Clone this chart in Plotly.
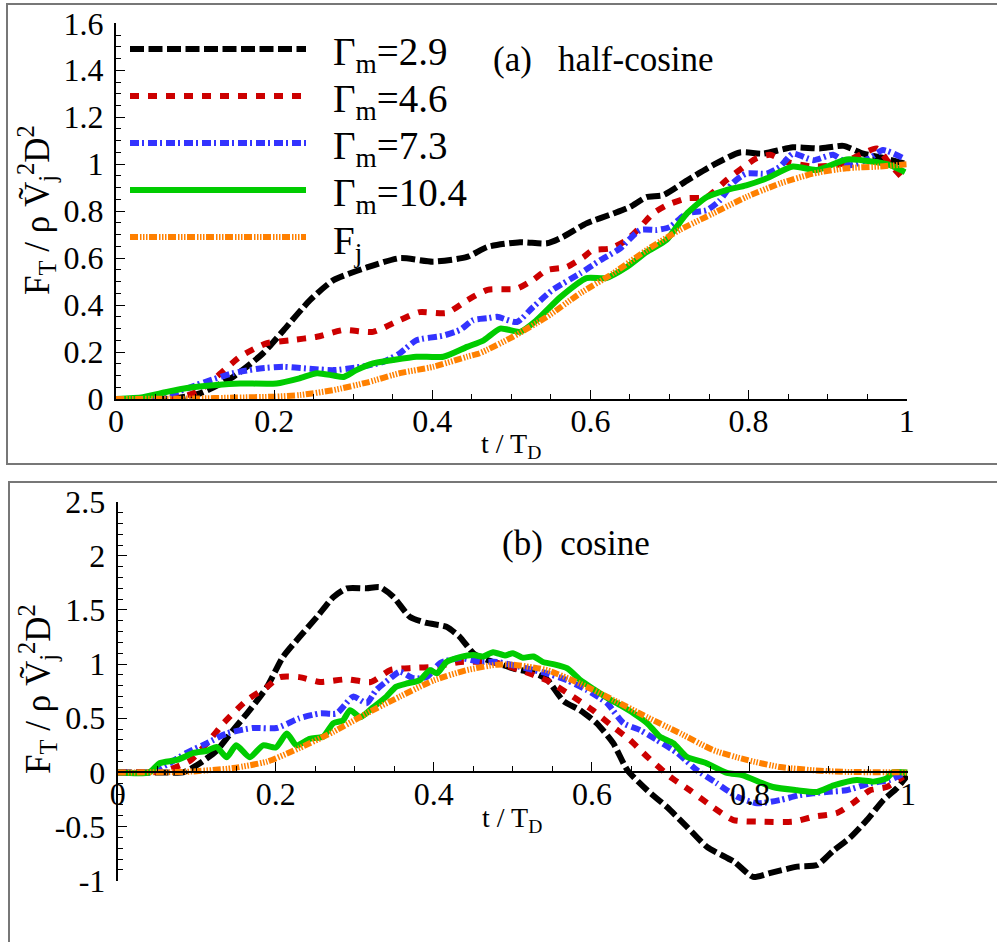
import plotly.graph_objects as go

# ---------------- data ----------------
SERIES_NAMES = ["Γ<sub>m</sub>=2.9", "Γ<sub>m</sub>=4.6", "Γ<sub>m</sub>=7.3",
                "Γ<sub>m</sub>=10.4", "F<sub>j</sub>"]

# (a) half-cosine
T_BLACK_A = [0, 0.05, 0.08, 0.107, 0.148, 0.186, 0.212, 0.245, 0.275, 0.317, 0.359, 0.401, 0.444,
             0.47, 0.511, 0.545, 0.565, 0.595, 0.629, 0.65, 0.671, 0.692, 0.722, 0.755, 0.789,
             0.818, 0.856, 0.89, 0.92, 0.945, 0.966, 1.0]
V_BLACK_A = [0, 0, 0.005, 0.025, 0.094, 0.195, 0.293, 0.42, 0.506, 0.56, 0.6, 0.585, 0.605,
             0.648, 0.668, 0.663, 0.69, 0.748, 0.79, 0.818, 0.86, 0.868, 0.93, 0.996, 1.05,
             1.045, 1.072, 1.067, 1.078, 1.045, 1.03, 1.0]

T_RED_A = [0, 0.06, 0.09, 0.107, 0.127, 0.157, 0.19, 0.22, 0.254, 0.288, 0.325, 0.359, 0.384,
           0.418, 0.444, 0.47, 0.507, 0.527, 0.545, 0.57, 0.591, 0.603, 0.625, 0.646, 0.663,
           0.679, 0.697, 0.722, 0.747, 0.772, 0.797, 0.81, 0.827, 0.848, 0.882, 0.916, 0.941,
           0.962, 0.979, 0.995]
V_RED_A = [0, 0, 0.015, 0.04, 0.094, 0.18, 0.237, 0.25, 0.265, 0.294, 0.286, 0.336, 0.37,
           0.366, 0.42, 0.465, 0.47, 0.506, 0.549, 0.562, 0.604, 0.634, 0.641, 0.677, 0.732,
           0.79, 0.826, 0.855, 0.86, 0.932, 0.996, 1.025, 1.04, 1.01, 0.99, 1.0, 1.04,
           1.067, 1.0, 0.94]

T_BLUE_A = [0, 0.04, 0.073, 0.107, 0.148, 0.182, 0.212, 0.241, 0.275, 0.309, 0.338, 0.359, 0.38,
            0.414, 0.435, 0.452, 0.47, 0.482, 0.507, 0.527, 0.552, 0.587, 0.612, 0.637, 0.663,
            0.684, 0.7, 0.722, 0.747, 0.764, 0.78, 0.797, 0.823, 0.84, 0.856, 0.882, 0.907,
            0.928, 0.953, 0.97, 0.996]
V_BLUE_A = [0, 0.003, 0.025, 0.066, 0.11, 0.13, 0.137, 0.13, 0.123, 0.137, 0.158, 0.195, 0.25,
            0.27, 0.294, 0.336, 0.344, 0.35, 0.328, 0.39, 0.464, 0.535, 0.59, 0.64, 0.72,
            0.72, 0.732, 0.79, 0.804, 0.847, 0.92, 0.96, 0.96, 0.99, 1.045, 1.017, 1.04,
            0.996, 1.025, 1.06, 1.025]

T_GREEN_A = [0, 0.034, 0.064, 0.09, 0.127, 0.157, 0.203, 0.232, 0.254, 0.275, 0.288, 0.304,
             0.325, 0.35, 0.38, 0.414, 0.444, 0.465, 0.486, 0.511, 0.532, 0.562, 0.595, 0.62,
             0.646, 0.671, 0.696, 0.722, 0.747, 0.772, 0.797, 0.823, 0.856, 0.886, 0.924,
             0.958, 0.979, 0.998]
V_GREEN_A = [0, 0.008, 0.03, 0.047, 0.06, 0.066, 0.066, 0.088, 0.11, 0.1, 0.094, 0.123,
             0.152, 0.166, 0.18, 0.18, 0.222, 0.25, 0.3, 0.286, 0.336, 0.434, 0.515, 0.515,
             0.562, 0.626, 0.677, 0.79, 0.86, 0.89, 0.91, 0.94, 0.99, 0.975, 1.02,
             1.01, 0.996, 0.966]

T_ORANGE_A = [0, 0.1, 0.15, 0.2, 0.233, 0.275, 0.317, 0.359, 0.401, 0.444, 0.46, 0.502, 0.545,
              0.587, 0.629, 0.671, 0.713, 0.755, 0.797, 0.84, 0.882, 0.924, 0.966, 1.0]
V_ORANGE_A = [0, 0.002, 0.006, 0.01, 0.017, 0.038, 0.07, 0.11, 0.137, 0.18, 0.195, 0.265, 0.35,
              0.45, 0.536, 0.634, 0.72, 0.79, 0.86, 0.918, 0.96, 0.983, 0.99, 1.0]

# (b) cosine
T_BLACK_B = [0, 0.06, 0.083, 0.104, 0.125, 0.146, 0.167, 0.189, 0.209, 0.23, 0.252, 0.273, 0.29,
             0.315, 0.332, 0.349, 0.37, 0.391, 0.416, 0.433, 0.45, 0.467, 0.484, 0.5, 0.526,
             0.543, 0.564, 0.585, 0.606, 0.627, 0.645, 0.67, 0.695, 0.72, 0.746, 0.78, 0.804,
             0.825, 0.86, 0.885, 0.906, 0.927, 0.948, 0.969, 0.986, 0.999]
V_BLACK_B = [0, 0, 0.0, 0.085, 0.2, 0.39, 0.575, 0.79, 1.065, 1.25, 1.435, 1.62, 1.70,
             1.70, 1.71, 1.62, 1.435, 1.38, 1.345, 1.25, 1.1, 1.04, 1.0, 0.96, 0.92,
             0.86, 0.66, 0.575, 0.455, 0.27, 0.02, -0.165, -0.32, -0.5, -0.69, -0.825, -0.965,
             -0.93, -0.87, -0.855, -0.72, -0.6, -0.44, -0.255, -0.145, -0.03]

T_RED_B = [0, 0.04, 0.062, 0.092, 0.113, 0.134, 0.163, 0.189, 0.205, 0.23, 0.256, 0.29, 0.32,
           0.345, 0.374, 0.4, 0.434, 0.467, 0.48, 0.509, 0.543, 0.576, 0.601, 0.627, 0.648,
           0.67, 0.699, 0.724, 0.753, 0.779, 0.817, 0.855, 0.88, 0.91, 0.93, 0.952, 0.973, 0.994]
V_RED_B = [0, 0, 0.02, 0.11, 0.27, 0.455, 0.665, 0.79, 0.88, 0.88, 0.835, 0.86, 0.835,
           0.945, 0.965, 0.975, 1.02, 1.02, 1.01, 0.945, 0.85, 0.7, 0.575, 0.42, 0.3,
           0.145, -0.04, -0.165, -0.32, -0.44, -0.455, -0.455, -0.41, -0.375, -0.285, -0.165,
           -0.135, -0.04]

T_BLUE_B = [0, 0.04, 0.062, 0.087, 0.113, 0.138, 0.171, 0.201, 0.23, 0.256, 0.277, 0.298, 0.315,
            0.327, 0.345, 0.357, 0.374, 0.391, 0.408, 0.434, 0.459, 0.48, 0.509, 0.543, 0.569,
            0.594, 0.619, 0.64, 0.661, 0.682, 0.708, 0.733, 0.758, 0.784, 0.809, 0.838, 0.863,
            0.897, 0.922, 0.952, 0.977, 0.994]
V_BLUE_B = [0, 0, 0.07, 0.18, 0.27, 0.36, 0.41, 0.41, 0.5, 0.545, 0.545, 0.7, 0.64,
            0.76, 0.87, 0.93, 0.87, 0.88, 1.01, 1.055, 1.02, 1.02, 0.975, 0.915, 0.85,
            0.76, 0.64, 0.455, 0.39, 0.3, 0.18, 0.02, -0.1, -0.225, -0.285, -0.255, -0.21,
            -0.18, -0.165, -0.1, -0.07, -0.01]

T_GREEN_B = [0, 0.04, 0.053, 0.075, 0.096, 0.113, 0.125, 0.138, 0.15, 0.167, 0.184, 0.2, 0.214,
             0.226, 0.243, 0.26, 0.273, 0.285, 0.294, 0.307, 0.323, 0.34, 0.352, 0.365, 0.382,
             0.395, 0.404, 0.416, 0.433, 0.45, 0.462, 0.475, 0.49, 0.5, 0.512, 0.526, 0.538,
             0.551, 0.569, 0.585, 0.602, 0.619, 0.636, 0.653, 0.67, 0.686, 0.703, 0.72, 0.745,
             0.771, 0.79, 0.829, 0.86, 0.885, 0.906, 0.935, 0.956, 0.973, 0.981, 0.999]
V_GREEN_B = [0, 0, 0.085, 0.115, 0.18, 0.2, 0.235, 0.14, 0.25, 0.14, 0.25, 0.23, 0.36,
             0.25, 0.31, 0.33, 0.455, 0.48, 0.575, 0.51, 0.6, 0.7, 0.79, 0.82, 0.85,
             0.945, 0.915, 1.02, 1.065, 1.085, 1.07, 1.11, 1.08, 1.1, 1.06, 1.07, 1.02,
             1.0, 0.96, 0.855, 0.77, 0.69, 0.62, 0.545, 0.455, 0.33, 0.27, 0.145, 0.085,
             -0.005, -0.025, -0.135, -0.165, -0.18, -0.12, -0.07, -0.085, -0.055, 0.0, 0.0]

T_ORANGE_B = [0, 0.085, 0.146, 0.189, 0.23, 0.273, 0.315, 0.357, 0.4, 0.442, 0.48, 0.5, 0.543,
              0.585, 0.627, 0.67, 0.712, 0.754, 0.796, 0.838, 0.88, 0.92, 1.0]
V_ORANGE_B = [0, 0.005, 0.04, 0.1, 0.225, 0.375, 0.545, 0.7, 0.85, 0.945, 0.995, 0.995, 0.945,
              0.82, 0.67, 0.51, 0.36, 0.205, 0.115, 0.05, 0.02, 0.005, 0]

X_RANGE = [0, 1]
Y1_RANGE = [0, 1.6]
Y2_RANGE = [-1, 2.5]
X_TICKVALS = [0, 0.2, 0.4, 0.6, 0.8, 1]
X_TICKTEXT = ["0", "0.2", "0.4", "0.6", "0.8", "1"]
Y1_TICKVALS = [0, 0.2, 0.4, 0.6, 0.8, 1, 1.2, 1.4, 1.6]
Y1_TICKTEXT = ["0", "0.2", "0.4", "0.6", "0.8", "1", "1.2", "1.4", "1.6"]
Y2_TICKVALS = [-1, -0.5, 0, 0.5, 1, 1.5, 2, 2.5]
Y2_TICKTEXT = ["-1", "-0.5", "0", "0.5", "1", "1.5", "2", "2.5"]
PANEL_LABELS = ["(a)   half-cosine", "(b)  cosine"]

# ---------------- styles ----------------
COLORS = ["#000000", "#cc0000", "#3333ff", "#00cc00", "#ff8000"]
DASHES = ["14px,4.5px", "9px,9px", "9px,3px,2px,4px", "solid",
          "8px,2px,1.5px,1.5px,1.5px,1.5px,1.5px,1.5px"]
WIDTHS = [6, 6, 6, 6, 6]

W, H = 997, 942
FONT = "Liberation Serif"
TICK_SIZE = 32


def fx(px):
    return px / W


def fy(py):
    return (H - py) / H


fig = go.Figure()

panel_a = [(T_BLACK_A, V_BLACK_A), (T_RED_A, V_RED_A), (T_BLUE_A, V_BLUE_A),
           (T_GREEN_A, V_GREEN_A), (T_ORANGE_A, V_ORANGE_A)]
panel_b = [(T_BLACK_B, V_BLACK_B), (T_RED_B, V_RED_B), (T_BLUE_B, V_BLUE_B),
           (T_GREEN_B, V_GREEN_B), (T_ORANGE_B, V_ORANGE_B)]

for (t, v), c, d, w, n in zip(panel_a, COLORS, DASHES, WIDTHS, SERIES_NAMES):
    fig.add_trace(go.Scatter(x=t, y=v, mode="lines", name=n, xaxis="x", yaxis="y",
                             line=dict(color=c, dash=d, width=w, shape="spline", smoothing=0.6),
                             showlegend=False))
for (t, v), c, d, w, n in zip(panel_b, COLORS, DASHES, WIDTHS, SERIES_NAMES):
    fig.add_trace(go.Scatter(x=t, y=v, mode="lines", name=n, xaxis="x2", yaxis="y2",
                             line=dict(color=c, dash=d, width=w, shape="spline", smoothing=0.6),
                             showlegend=False))


def axis(**kw):
    d = dict(showline=True, linecolor="black", linewidth=2, ticks="inside",
             tickcolor="black", tickwidth=1.3, ticklen=9, showgrid=False, zeroline=False,
             automargin=False,
             tickfont=dict(family=FONT, size=TICK_SIZE, color="black"))
    d.update(kw)
    return d


def minor(step):
    return dict(dtick=step, ticks="inside", ticklen=5, tickwidth=1.2, tickcolor="black")


x1_dom = [fx(116), fx(906.7)]
y1_dom = [fy(399), fy(23.3)]
x2_dom = [fx(117.7), fx(908)]
y2_dom = [fy(880.7), fy(501.7)]
x2_pos = y2_dom[0] + (0 - Y2_RANGE[0]) / (Y2_RANGE[1] - Y2_RANGE[0]) * (y2_dom[1] - y2_dom[0])

fig.update_layout(
    template="none",
    width=W, height=H, autosize=False,
    margin=dict(l=0, r=0, t=0, b=0, pad=0, autoexpand=False),
    paper_bgcolor="white", plot_bgcolor="rgba(0,0,0,0)",
    showlegend=False,
    font=dict(family=FONT, size=TICK_SIZE, color="black"),
    xaxis=axis(domain=x1_dom, range=X_RANGE, anchor="y", tickvals=X_TICKVALS,
               ticktext=X_TICKTEXT, minor=minor(0.05), ticklabelstandoff=-7),
    yaxis=axis(domain=y1_dom, range=Y1_RANGE, anchor="x", tickvals=Y1_TICKVALS,
               ticktext=Y1_TICKTEXT, minor=minor(0.05), ticklabelstandoff=4),
    xaxis2=axis(domain=x2_dom, range=X_RANGE, anchor="free", position=x2_pos,
                tickvals=X_TICKVALS, ticktext=X_TICKTEXT, minor=minor(0.05),
                ticklabelstandoff=-7),
    yaxis2=axis(domain=y2_dom, range=Y2_RANGE, anchor="x2", tickvals=Y2_TICKVALS,
                ticktext=Y2_TICKTEXT, minor=minor(0.1), ticklabelstandoff=4),
)

shapes = []
# panel frames
shapes.append(dict(type="rect", xref="paper", yref="paper", x0=fx(7), x1=fx(1005),
                   y0=fy(464), y1=fy(4), line=dict(color="#777777", width=2),
                   fillcolor="rgba(0,0,0,0)", layer="below"))
shapes.append(dict(type="rect", xref="paper", yref="paper", x0=fx(9), x1=fx(1005),
                   y0=fy(950), y1=fy(482), line=dict(color="#777777", width=2),
                   fillcolor="rgba(0,0,0,0)", layer="below"))

annotations = []
# legend (panel a)
for i, (n, c, d, w) in enumerate(zip(SERIES_NAMES, COLORS, DASHES, WIDTHS)):
    ly = 49 + 47 * i
    shapes.append(dict(type="line", xref="paper", yref="paper", x0=fx(130), x1=fx(306),
                       y0=fy(ly), y1=fy(ly), line=dict(color=c, dash=d, width=w)))
    annotations.append(dict(text=n, xref="paper", yref="paper", x=fx(331), y=fy(ly + 6),
                            xanchor="left", yanchor="middle", showarrow=False,
                            font=dict(family=FONT, size=39, color="black")))

# panel labels
annotations.append(dict(text=PANEL_LABELS[0], xref="paper", yref="paper", x=fx(491), y=fy(60),
                        xanchor="left", yanchor="middle", showarrow=False,
                        font=dict(family=FONT, size=35, color="black")))
annotations.append(dict(text=PANEL_LABELS[1], xref="paper", yref="paper", x=fx(500), y=fy(543),
                        xanchor="left", yanchor="middle", showarrow=False,
                        font=dict(family=FONT, size=35, color="black")))

# axis titles
xt = "t / T<sub>D</sub>"
yt = "F<sub>T</sub> / ρ Ṽ<sub>j</sub><sup>2</sup>D<sup>2</sup>"
for ytop, xc in [(426, 511), (800, 512)]:
    annotations.append(dict(text=xt, xref="paper", yref="paper", x=fx(xc), y=fy(ytop),
                            xanchor="center", yanchor="top", showarrow=False,
                            font=dict(family=FONT, size=28, color="black")))
for yc in [210, 689]:
    annotations.append(dict(text=yt, xref="paper", yref="paper", x=fx(37), y=fy(yc),
                            xanchor="center", yanchor="middle", showarrow=False, textangle=-90,
                            font=dict(family=FONT, size=35, color="black")))

fig.update_layout(shapes=shapes, annotations=annotations)

fig.write_html("out.html")
